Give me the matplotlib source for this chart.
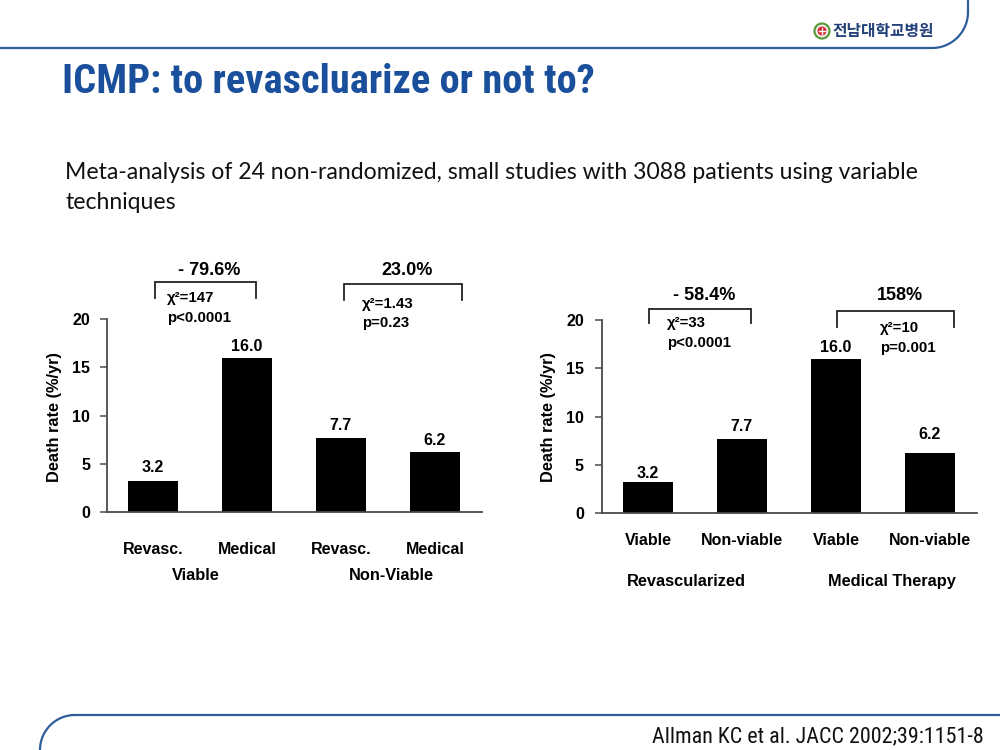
import os
import matplotlib
matplotlib.use('Agg')
import matplotlib.pyplot as plt
from matplotlib import font_manager
from matplotlib.font_manager import FontProperties
from matplotlib.patches import Circle
import numpy as np

# ---------------- data ----------------
title_text = 'ICMP: to revascluarize or not to?'
subtitle_lines = ['Meta-analysis of 24 non-randomized, small studies with 3088 patients using variable',
                  'techniques']
citation_text = 'Allman KC et al. JACC 2002;39:1151-8'
logo_text = '전남대학교병원'

y_ticks = [0, 5, 10, 15, 20]
y_label = 'Death rate (%/yr)'

left_categories = ['Revasc.', 'Medical', 'Revasc.', 'Medical']
left_groups = ['Viable', 'Non-Viable']
left_values = [3.2, 16.0, 7.7, 6.2]
left_changes = ['- 79.6%', '23.0%']
left_chi = ['χ²=147', 'χ²=1.43']
left_p = ['p<0.0001', 'p=0.23']

right_categories = ['Viable', 'Non-viable', 'Viable', 'Non-viable']
right_groups = ['Revascularized', 'Medical Therapy']
right_values = [3.2, 7.7, 16.0, 6.2]
right_changes = ['- 58.4%', '158%']
right_chi = ['χ²=33', 'χ²=10']
right_p = ['p<0.0001', 'p=0.001']

# ---------------- fonts ----------------
plt.rcParams['font.family'] = ['Liberation Sans', 'DejaVu Sans']
names = {f.name for f in font_manager.fontManager.ttflist}
files = sorted({f.fname for f in font_manager.fontManager.ttflist})


def find_font(patterns, exclude):
    for pats in patterns:
        for fn in files:
            b = os.path.basename(fn).lower().replace('_', '').replace('-', '')
            if all(p in b for p in pats) and not any(e in b for e in exclude):
                return fn
    return None


title_file = find_font(
    [('opensans', 'condensed', 'bold'), ('notosans', 'condensedbold'),
     ('roboto', 'condensed', 'bold'), ('liberationsansnarrow', 'bold'),
     ('dejavusanscondensed', 'bold'), ('condensed', 'bold'), ('narrow', 'bold')],
    ('italic', 'oblique', 'extrabold', 'semibold', 'semi', 'extra', 'light', 'black',
     'medium', 'thin', 'cjk', 'mono'))
cit_file = find_font(
    [('notosans', 'semicondensed.'), ('notosans', 'semicondensedregular'),
     ('opensans', 'semicondensed', 'regular'), ('notosans', 'condensed.'),
     ('notosans', 'condensedregular'), ('opensans', 'condensed', 'regular'),
     ('roboto', 'condensed', 'regular'), ('liberationsansnarrow', 'regular'),
     ('dejavusanscondensed.',)],
    ('italic', 'oblique', 'bold', 'light', 'medium', 'thin', 'black', 'extra', 'cjk', 'mono'))

body_family = 'Lato' if 'Lato' in names else 'DejaVu Sans'
if title_file:
    title_fp = FontProperties(fname=title_file, size=27)
else:
    title_fp = FontProperties(family='Liberation Sans', weight='bold', size=27)
if cit_file:
    cit_fp = FontProperties(fname=cit_file, size=16)
else:
    cit_fp = FontProperties(family=body_family, size=14)

W, H = 1000, 750
fig = plt.figure(figsize=(10, 7.5), dpi=100)
fig.patch.set_facecolor('white')
renderer = fig.canvas.get_renderer()

BLUE_LINE = '#2f5d9c'
TITLE_BLUE = '#1a4f9b'


def fx(x):
    return x / W


def fy(y):
    return 1 - y / H


def fit_width(t, target):
    w = t.get_window_extent(renderer).width
    t.set_fontsize(t.get_fontsize() * target / w)


# ---------------- slide decoration ----------------
ov = fig.add_axes([0, 0, 1, 1], zorder=0)
ov.set_xlim(0, W)
ov.set_ylim(H, 0)
ov.axis('off')
tt = np.linspace(0, np.pi / 2, 60)
top_x = np.concatenate([[0], 932 + 36 * np.sin(tt), [968]])
top_y = np.concatenate([[48], 12 + 36 * np.cos(tt), [0]])
ov.plot(top_x, top_y, color=BLUE_LINE, lw=1.6, solid_capstyle='butt')
bot_x = np.concatenate([[W], 75 - 35 * np.sin(tt)])
bot_y = np.concatenate([[715], 750 - 35 * np.cos(tt)])
ov.plot(bot_x, bot_y, color=BLUE_LINE, lw=1.6, solid_capstyle='butt')

# logo
ov.add_patch(Circle((822, 31), 7.5, facecolor='#f4f4f4', edgecolor='#5b9a3c', lw=1.6))
ov.add_patch(Circle((822, 31), 4.5, facecolor='#d9262c', edgecolor='none'))
ov.plot([822, 822], [28.3, 33.7], color='white', lw=1.0)
ov.plot([819.3, 824.7], [31, 31], color='white', lw=1.0)
t_logo = fig.text(fx(832), fy(31), logo_text, family=['Noto Sans CJK KR', 'DejaVu Sans'],
                  fontweight='bold', fontsize=11, color='#23407a', ha='left', va='center')
fit_width(t_logo, 101)

# title
t_title = fig.text(fx(62), fy(93), title_text, fontproperties=title_fp,
                   color=TITLE_BLUE, ha='left', va='baseline')
fit_width(t_title, 533)

# subtitle
t_sub1 = fig.text(fx(65), fy(179), subtitle_lines[0], family=body_family,
                  fontsize=14, color='#111111', ha='left', va='baseline')
fit_width(t_sub1, 855)
fig.text(fx(65), fy(209), subtitle_lines[1], family=body_family,
         fontsize=t_sub1.get_fontsize(), color='#111111', ha='left', va='baseline')

# citation
t_cit = fig.text(fx(984), fy(742), citation_text, fontproperties=cit_fp,
                 color='#111111', ha='right', va='baseline')
fit_width(t_cit, 332)


# ---------------- charts ----------------
def make_chart(left_px, values, categories, groups, changes, chis, ps, layout):
    ax = fig.add_axes([fx(left_px), fy(layout['zero_px']), 375 / W, 193 / H], zorder=2)
    x = np.arange(len(values))
    ax.bar(x, values, width=0.532, color='black', edgecolor='none')
    ax.set_xlim(-0.489, 3.5)
    ax.set_ylim(0, 20)
    ax.set_yticks(y_ticks)
    ax.set_yticklabels([str(v) for v in y_ticks], fontweight='bold', fontsize=11.5)
    ax.set_xticks([])
    for s in ['top', 'right']:
        ax.spines[s].set_visible(False)
    for s in ['left', 'bottom']:
        ax.spines[s].set_color('#4a4a4a')
        ax.spines[s].set_linewidth(1.3)
    ax.tick_params(axis='y', direction='out', length=5, width=1.1, color='#4a4a4a',
                   pad=layout['tick_pad'])
    ax.patch.set_alpha(0)

    # value labels
    for xi, v, off in zip(x, values, layout['val_off']):
        ax.text(xi, v + off, f'{v:.1f}', ha='center', va='center', fontsize=11.5,
                fontweight='bold', clip_on=False)
    # category labels
    for xi, c in zip(x, categories):
        ax.text(xi, layout['cat_y'], c, ha='center', va='center', fontsize=11.5,
                fontweight='bold', clip_on=False)
    for gx, g in zip(layout['group_x'], groups):
        ax.text(gx, layout['group_y'], g, ha='center', va='center', fontsize=11.8,
                fontweight='bold', clip_on=False)
    # brackets
    for (x0, x1), (yh, ye) in zip(layout['br_x'], layout['br_y']):
        ax.plot([x0, x0, x1, x1], [ye, yh, yh, ye], color='#222222', lw=1.3,
                clip_on=False, solid_joinstyle='miter')
    for cx, cy, ch in zip(layout['chg_x'], layout['chg_y'], changes):
        ax.text(cx, cy, ch, ha='center', va='center', fontsize=13, fontweight='bold',
                clip_on=False)
    for sx, (cy, py), chi, p in zip(layout['st_x'], layout['st_y'], chis, ps):
        ax.text(sx, cy, chi, ha='left', va='center', fontsize=10.8, fontweight='bold',
                clip_on=False)
        ax.text(sx, py, p, ha='left', va='center', fontsize=10.8, fontweight='bold',
                clip_on=False)
    fig.text(fx(layout['ylabel_px']), fy(417), y_label, rotation=90, ha='center', va='center',
             fontsize=11.8, fontweight='bold')
    return ax


left_layout = dict(
    zero_px=512, tick_pad=7,
    val_off=[1.4, 1.2, 1.3, 1.2],
    cat_y=-3.9, group_y=-6.6, group_x=[0.45, 2.54],
    br_x=[(0.02, 1.1), (2.03, 3.29)], br_y=[(23.8, 22.2), (23.6, 22.0)],
    chg_x=[0.6, 2.7], chg_y=[25.0, 25.0],
    st_x=[0.15, 2.22], st_y=[(22.2, 20.1), (21.6, 19.6)],
    ylabel_px=55,
)
right_layout = dict(
    zero_px=513, tick_pad=8,
    val_off=[0.9, 1.3, 1.2, 1.9],
    cat_y=-2.8, group_y=-7.15, group_x=[0.41, 2.6],
    br_x=[(0.01, 1.1), (2.01, 3.26)], br_y=[(21.1, 19.7), (20.9, 19.3)],
    chg_x=[0.6, 2.68], chg_y=[22.5, 22.5],
    st_x=[0.2, 2.47], st_y=[(19.7, 17.6), (19.2, 17.1)],
    ylabel_px=548,
)

make_chart(107, left_values, left_categories, left_groups, left_changes, left_chi, left_p,
           left_layout)
make_chart(602, right_values, right_categories, right_groups, right_changes, right_chi, right_p,
           right_layout)

fig.savefig('out.png', dpi=100)
